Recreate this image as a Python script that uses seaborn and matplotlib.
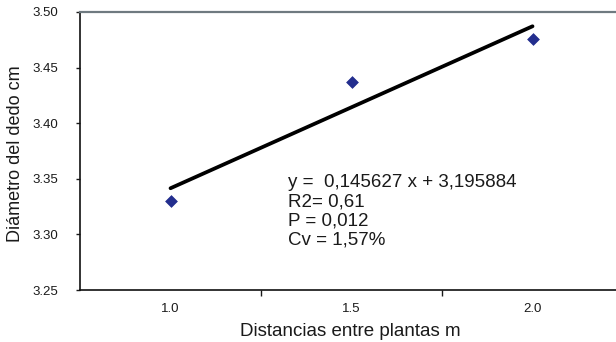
import matplotlib
matplotlib.use("Agg")
import matplotlib.pyplot as plt
import seaborn as sns
import pandas as pd

# Plant spacing (m) vs. finger diameter (cm)
distances = [1.0, 1.5, 2.0]
diameters = [3.330, 3.437, 3.476]

# Fitted linear regression reported on the chart
slope = 0.145627
intercept = 3.195884
r2_text = "0,61"
p_text = "0,012"
cv_text = "1,57%"

x_ticks = [1.0, 1.5, 2.0]
x_tick_labels = ["1.0", "1.5", "2.0"]
y_ticks = [3.25, 3.30, 3.35, 3.40, 3.45, 3.50]
y_tick_labels = ["3.25", "3.30", "3.35", "3.40", "3.45", "3.50"]

sns.set_theme(style="white")
plt.rcParams["font.family"] = ["Liberation Sans", "DejaVu Sans"]

df = pd.DataFrame({"dist": distances, "diam": diameters})
fit_x = [distances[0], distances[-1]]
fit = pd.DataFrame({"dist": fit_x, "diam": [slope * v + intercept for v in fit_x]})

fig = plt.figure(figsize=(6.16, 3.42), dpi=100)
ax = fig.add_axes([0.1299, 0.152, 0.8815, 0.813])

sns.lineplot(data=fit, x="dist", y="diam", color="black", linewidth=2.7, ax=ax)
sns.scatterplot(data=df, x="dist", y="diam", marker="D", s=36,
                color="#232E8E", edgecolor="#232E8E", linewidth=0.5,
                zorder=5, ax=ax)

ax.set_xlim(0.75, 2.25)
ax.set_ylim(3.25, 3.50)

ax.set_xticks(x_ticks)
ax.set_xticklabels(x_tick_labels, fontsize=9.5)
ax.set_xticks([1.25, 1.75], minor=True)
ax.tick_params(axis="x", which="major", length=0, pad=9, colors="#1a1a1a")
ax.tick_params(axis="x", which="minor", bottom=True, direction="out",
               length=4, width=1.0, color="#1a1a1a")

ax.set_yticks(y_ticks)
ax.set_yticklabels(y_tick_labels, fontsize=9.5)
ax.tick_params(axis="y", left=True, direction="out", length=3, width=1.0,
               pad=13, colors="#1a1a1a")

for side in ("left", "bottom"):
    ax.spines[side].set_color("#111111")
    ax.spines[side].set_linewidth(1.2)
ax.spines["top"].set_color("#6f7a80")
ax.spines["top"].set_linewidth(1.6)
ax.spines["right"].set_visible(False)

ax.set_xlabel("Distancias entre plantas m", fontsize=13.5, color="#1a1a1a")
ax.set_ylabel("Diámetro del dedo cm", fontsize=13, color="#1a1a1a")
ax.xaxis.set_label_coords(0.497, -0.12)
ax.yaxis.set_label_coords(-0.103, 0.489)

stats = (f"y =  {slope:.6f} x + {intercept:.6f}".replace(".", ",") + "\n"
         f"R2= {r2_text}\n"
         f"P = {p_text}\n"
         f"Cv = {cv_text}")
ax.text(1.3246, 3.3545, stats, fontsize=13.5, va="top", ha="left",
        linespacing=1.17, color="#1a1a1a")

fig.savefig("out.png", dpi=100, facecolor="white")
